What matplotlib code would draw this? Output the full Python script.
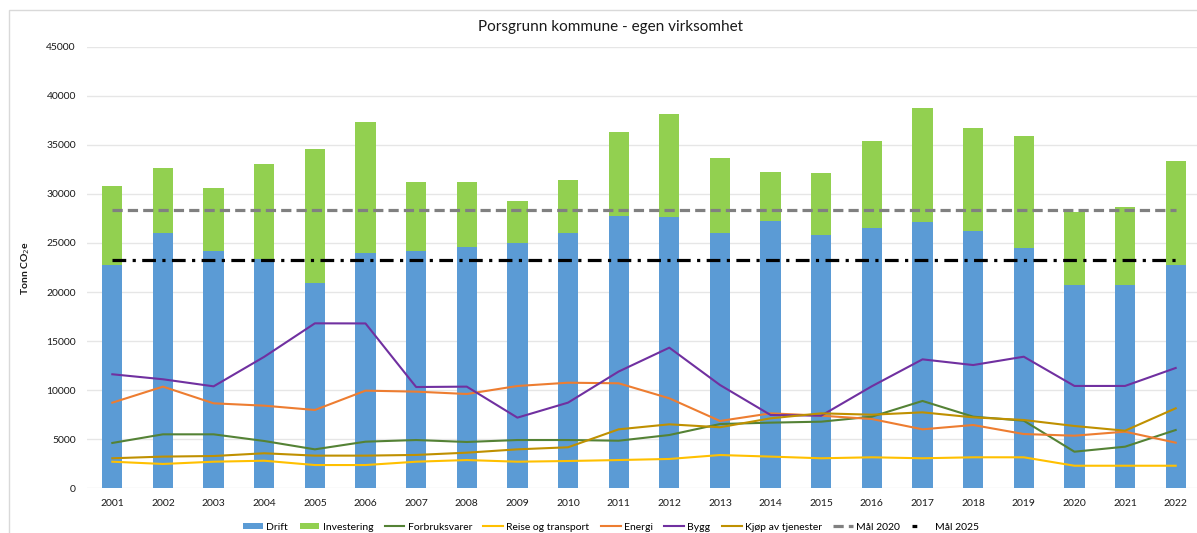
import matplotlib
matplotlib.use("Agg")
import matplotlib.pyplot as plt
from matplotlib.lines import Line2D
from matplotlib.patches import Rectangle
import numpy as np

plt.rcParams['font.family'] = ['Lato', 'DejaVu Sans']

years = [str(y) for y in range(2001, 2023)]
drift = [22800, 26000, 24150, 23400, 20950, 23980, 24150, 24560, 24970, 26050, 27780,
         27620, 26050, 27270, 25810, 26530, 27100, 26220, 24490, 20750, 20690, 22720]
investering = [8040, 6670, 6420, 9680, 13630, 13320, 7100, 6690, 4310, 5370, 8530,
               10560, 7610, 4960, 6350, 8860, 11690, 10500, 11410, 7410, 8010, 10600]
forbruksvarer = [4620, 5500, 5500, 4820, 3970, 4750, 4920, 4720, 4920, 4920, 4850,
                 5430, 6550, 6690, 6790, 7300, 8900, 7300, 6890, 3730, 4240, 5940]
reise = [2710, 2480, 2710, 2810, 2370, 2370, 2710, 2880, 2710, 2780, 2880,
         2990, 3390, 3230, 3060, 3160, 3060, 3160, 3160, 2300, 2300, 2300]
energi = [8725, 10360, 8660, 8420, 7980, 9950, 9850, 9610, 10425, 10760, 10700,
          9170, 6860, 7640, 7400, 7060, 6010, 6450, 5530, 5360, 5770, 4650]
bygg = [11620, 11110, 10390, 13400, 16810, 16800, 10320, 10360, 7200, 8730, 11900,
        14330, 10530, 7470, 7400, 10400, 13140, 12560, 13410, 10430, 10430, 12260]
kjop = [3060, 3230, 3290, 3570, 3330, 3330, 3400, 3630, 3970, 4180, 6010,
        6520, 6220, 7130, 7640, 7500, 7740, 7230, 6960, 6350, 5870, 8150]
maal_2020 = 28330
maal_2025 = 23300

W, H = 1197, 533
fig = plt.figure(figsize=(W / 100, H / 100), dpi=100)

# light frame around the chart area
fig.patches.append(Rectangle((9 / W, -0.1), 1.2, 1 - 10 / H + 0.1, transform=fig.transFigure,
                             fill=False, edgecolor='#d9d9d9', linewidth=1.0, zorder=0))

ax = fig.add_axes([87 / W, 1 - 488.3 / H, 1114 / W, (488.3 - 46.7) / H])
x = np.arange(len(years))

ax.bar(x, drift, width=0.4, color='#5B9BD5', zorder=2, label='Drift')
ax.bar(x, investering, width=0.4, bottom=drift, color='#92D050', zorder=2, label='Investering')

lw = 1.5
ax.plot(x, forbruksvarer, color='#548235', lw=lw, zorder=3, label='Forbruksvarer')
ax.plot(x, reise, color='#FFC000', lw=lw, zorder=3, label='Reise og transport')
ax.plot(x, energi, color='#ED7D31', lw=lw, zorder=3, label='Energi')
ax.plot(x, bygg, color='#7030A0', lw=lw, zorder=3, label='Bygg')
ax.plot(x, kjop, color='#BF9000', lw=lw, zorder=3, label='Kjøp av tjenester')

ax.plot(x, [maal_2020] * len(x), color='#808080', lw=2.3, linestyle=(0, (3.2, 1.6)),
        zorder=4, label='Mål 2020')
ax.plot(x, [maal_2025] * len(x), color='black', lw=2.3, linestyle=(0, (4.3, 2.0, 1.0, 2.0)),
        zorder=4, label='Mål 2025')

ax.set_xlim(-0.5, len(x) - 0.5)
ax.set_ylim(0, 45000)
ax.set_yticks(np.arange(0, 45001, 5000))
ax.set_xticks(x)
ax.set_xticklabels(years)
ax.grid(axis='y', color='#e6e6e6', linewidth=1.0, zorder=0)
ax.set_axisbelow(True)
for s in ax.spines.values():
    s.set_visible(False)
ax.tick_params(axis='both', length=0, labelsize=7.5, colors='#1a1a1a')
ax.tick_params(axis='y', pad=8)
ax.tick_params(axis='x', pad=8)

fig.text(26 / W, 1 - 268 / H, 'Tonn CO$_2$e', rotation=90, ha='center', va='center',
         fontsize=7.5, fontweight='bold', color='#1a1a1a')
fig.text(610 / W, 1 - 27 / H, 'Porsgrunn kommune - egen virksomhet', ha='center', va='center',
         fontsize=11, color='#1a1a1a')

handles, labels = ax.get_legend_handles_labels()
order = ['Drift', 'Investering', 'Forbruksvarer', 'Reise og transport', 'Energi', 'Bygg',
         'Kjøp av tjenester', 'Mål 2020', 'Mål 2025']
hmap = dict(zip(labels, handles))
hmap['Mål 2025'] = Line2D([], [], color='black', lw=2.3, linestyle=(0, (1.5, 20)))
leg = fig.legend([hmap[k] for k in order], order, loc='center', bbox_to_anchor=(611 / W, 1 - 527 / H),
                 ncol=9, frameon=False, fontsize=7.5, handlelength=1.9, handleheight=0.6,
                 handletextpad=0.3, columnspacing=1.1, borderpad=0)

fig.savefig('out.png', dpi=100)
